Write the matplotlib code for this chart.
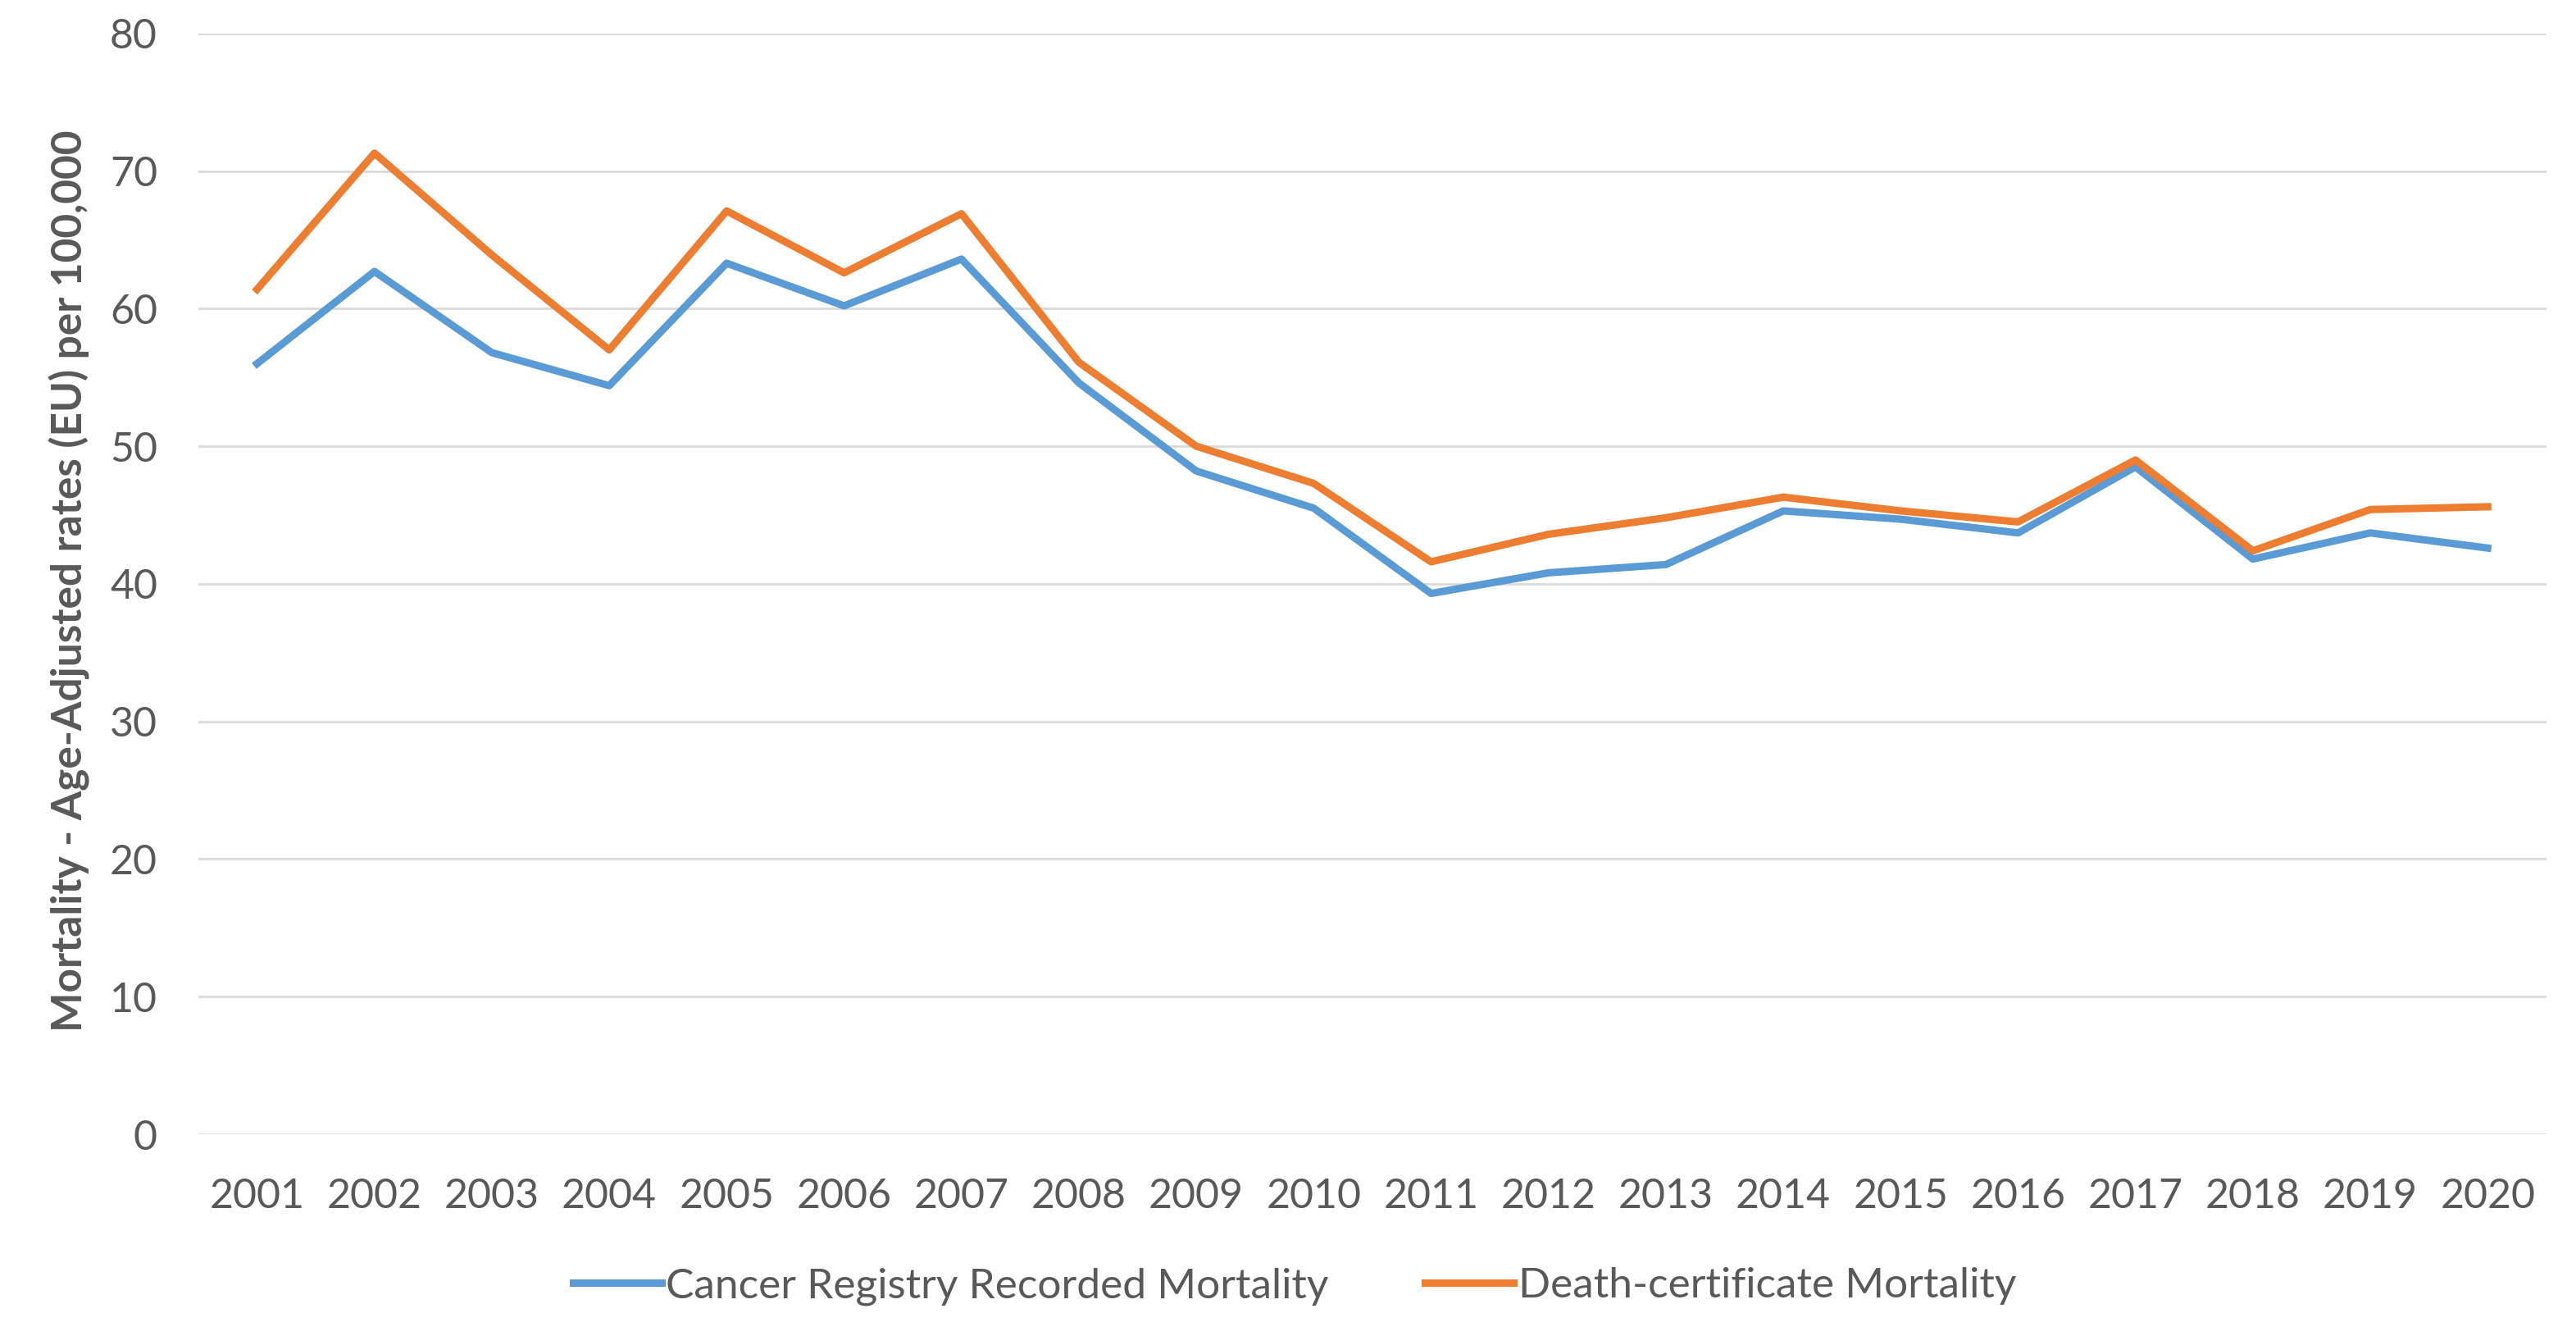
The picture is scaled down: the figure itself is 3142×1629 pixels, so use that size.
import matplotlib
matplotlib.use('Agg')
import matplotlib.pyplot as plt

years = list(range(2001, 2021))
registry = [56.0, 62.7, 56.8, 54.4, 63.3, 60.2, 63.6, 54.6, 48.2, 45.5,
            39.3, 40.8, 41.4, 45.3, 44.7, 43.7, 48.5, 41.8, 43.7, 42.6]
death_cert = [61.4, 71.3, 63.9, 57.0, 67.1, 62.6, 66.9, 56.1, 50.0, 47.3,
              41.6, 43.6, 44.8, 46.3, 45.3, 44.5, 49.0, 42.4, 45.4, 45.6]

plt.rcParams['font.family'] = ['Lato', 'DejaVu Sans']
gray = '#595959'

fig = plt.figure(figsize=(31.42, 16.29), dpi=100)
ax = fig.add_axes([0.077, 0.151, 0.9115, 0.824])

ax.plot(years, registry, color='#5b9bd5', lw=6.5, label='Cancer Registry Recorded Mortality',
        solid_joinstyle='round', zorder=3)
ax.plot(years, death_cert, color='#ed7d31', lw=6.5, label='Death-certificate Mortality',
        solid_joinstyle='round', zorder=3)

ax.set_xlim(2000.5, 2020.5)
ax.set_ylim(0, 80)
ax.set_yticks(range(0, 81, 10))
ax.set_xticks(years)
ax.grid(axis='y', color='#d9d9d9', lw=2)
ax.set_axisbelow(True)
for s in ax.spines.values():
    s.set_visible(False)
ax.tick_params(length=0, labelsize=36, colors=gray)
ax.tick_params(axis='y', pad=36)
ax.tick_params(axis='x', pad=38)

fig.text(0.027, 0.565, 'Mortality - Age-Adjusted rates (EU) per 100,000', rotation=90,
         ha='center', va='center', fontsize=37, fontweight='bold', color=gray)

leg = fig.legend(loc='center', bbox_to_anchor=(0.5025, 0.037), ncol=2, frameon=False,
                 fontsize=37, handlelength=2.1, handletextpad=0.1, columnspacing=2.3)
for t in leg.get_texts():
    t.set_color(gray)

fig.savefig('out.png', dpi=100)
